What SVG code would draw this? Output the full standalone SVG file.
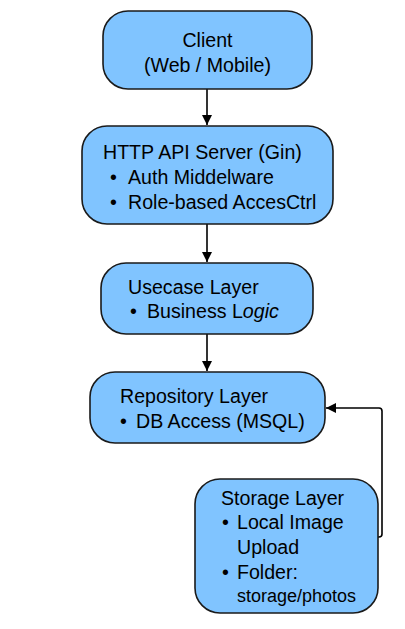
<svg xmlns="http://www.w3.org/2000/svg" width="405" height="629" viewBox="0 0 405 629">
<defs>
<style>
.box{fill:#80C4FF;stroke:#1a1a1a;stroke-width:1.6}
.t{font-family:"Liberation Sans",Arial,sans-serif;font-size:19.6px;fill:#000}
.s{font-size:18px}
.edge{fill:none;stroke:#000;stroke-width:1.6}
</style>
<marker id="ah" viewBox="0 0 10 10" refX="10" refY="5" markerWidth="10" markerHeight="10" markerUnits="userSpaceOnUse" orient="auto">
<path d="M0,0 L10,5 L0,10 Z" fill="#000"/>
</marker>
</defs>
<rect width="405" height="629" fill="#fff"/>
<g id="connectors">
<path class="edge" d="M207,89 V125" marker-end="url(#ah)"/>
<path class="edge" d="M207,224 V262" marker-end="url(#ah)"/>
<path class="edge" d="M207,334 V371" marker-end="url(#ah)"/>
<path class="edge" d="M378,537 H379 Q382,537 382,534 V411 Q382,408 379,408 H326" marker-end="url(#ah)"/>
</g>
<g id="client">
<rect class="box" x="103" y="11" width="209" height="78" rx="25"/>
<text class="t" x="207.5" y="47" text-anchor="middle">Client</text>
<text class="t" x="207.5" y="72" text-anchor="middle">(Web / Mobile)</text>
</g>
<g id="http">
<rect class="box" x="82" y="126" width="251" height="98" rx="25"/>
<text class="t" x="103" y="159">HTTP API Server (Gin)</text>
<text class="t" x="110" y="184">•</text><text class="t" x="128" y="184">Auth Middelware</text>
<text class="t" x="110" y="209">•</text><text class="t" x="128" y="209">Role-based AccesCtrl</text>
</g>
<g id="usecase">
<rect class="box" x="101" y="263" width="212" height="71" rx="25"/>
<text class="t" x="128" y="294">Usecase Layer</text>
<text class="t" x="130" y="318">•</text><text class="t" x="147" y="318">Business L<tspan font-style="italic">ogic</tspan></text>
</g>
<g id="repository">
<rect class="box" x="90" y="372" width="235" height="71" rx="25"/>
<text class="t" x="120" y="403">Repository Layer</text>
<text class="t" x="120" y="428">•</text><text class="t" x="136" y="428">DB Access (MSQL)</text>
</g>
<g id="storage">
<rect class="box" x="195" y="479" width="183" height="134" rx="25"/>
<text class="t" x="221" y="505">Storage Layer</text>
<text class="t" x="222" y="529">•</text><text class="t" x="237" y="529">Local Image</text>
<text class="t" x="237" y="554">Upload</text>
<text class="t" x="222" y="579">•</text><text class="t" x="237" y="579">Folder:</text>
<text class="t s" x="237" y="602">storage/photos</text>
</g>
</svg>
